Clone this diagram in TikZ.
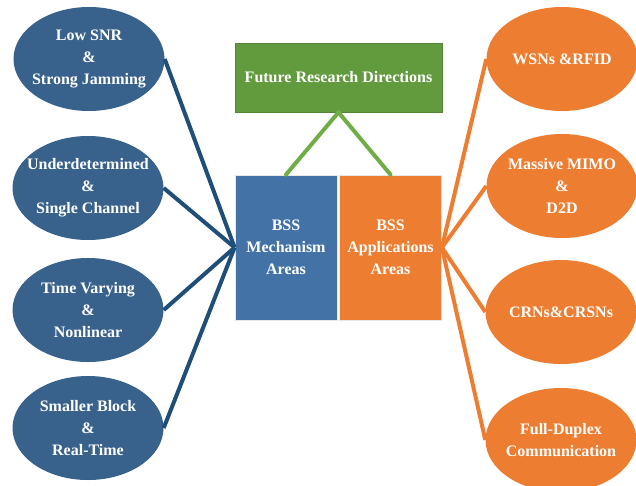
\documentclass[tikz,border=0pt]{standalone}
\usepackage{fontspec}
\setmainfont{Liberation Serif}
\usetikzlibrary{shapes.geometric}
\definecolor{blueEl}{HTML}{38618C}
\definecolor{blueLine}{HTML}{1F4E79}
\definecolor{blueBox}{HTML}{4373A6}
\definecolor{orangeC}{HTML}{ED7D31}
\definecolor{greenBox}{HTML}{629B3E}
\definecolor{greenLine}{HTML}{70AD47}
\tikzset{
  x=1pt, y=-1pt,
  txt/.style={text=white, font=\bfseries\fontsize{16}{22}\selectfont, align=center},
  % fixed-size ellipse; its caption is set as a centred label
  topic/.style={ellipse, minimum width=151pt, minimum height=104pt, inner sep=0pt,
                label={[txt]center:#1}},
  leftel/.style={topic={#1}, fill=blueEl},
  rightel/.style={topic={#1}, fill=orangeC},
  areabox/.style={rectangle, draw=white!82!gray, line width=0.8pt, minimum width=102pt, minimum height=145pt, inner sep=0pt, txt},
  bluelink/.style={draw=blueLine, line width=4pt},
  orangelink/.style={draw=orangeC, line width=4pt},
  greenlink/.style={draw=greenLine, line width=4pt, line cap=round},
}
\begin{document}
\begin{tikzpicture}
\clip (0,0) rectangle (636,485);
\fill[white] (0,0) rectangle (636,485);

% central boxes
\node[rectangle, fill=greenBox, draw=greenBox!85!black, line width=0.6pt, minimum width=207pt, minimum height=69pt, inner sep=0pt, txt] (future) at (338.5,77.5) {Future Research Directions};
\node[areabox, fill=blueBox] (mech) at (286,247.5) {BSS\\Mechanism\\Areas};
\node[areabox, fill=orangeC] (apps) at (390.5,247.5) {BSS\\Applications\\Areas};

% mechanism topics
\node[leftel={Low SNR\\\&\\Strong Jamming}] (l1) at (89,59) {};
\node[leftel={Underdetermined\\\&\\Single Channel}] (l2) at (88,188) {};
\node[leftel={Time Varying\\\&\\Nonlinear}] (l3) at (88,310) {};
\node[leftel={Smaller Block\\\&\\Real-Time}] (l4) at (88,428) {};

% application topics
\node[rightel={WSNs \&RFID}] (r1) at (562,59) {};
\node[rightel={Massive MIMO\\\&\\D2D}] (r2) at (562,186) {};
\node[rightel={CRNs\&CRSNs}] (r3) at (561,312) {};
\node[rightel={Full-Duplex\\Communication}] (r4) at (561,440) {};

% connectors
\foreach \n in {l1,l2,l3,l4} \draw[bluelink] (\n.east) -- (mech.west);
\foreach \n in {r1,r2,r3,r4} \draw[orangelink] (\n.west) -- (apps.east);
\draw[greenlink] (future.south) -- (mech.north);
\draw[greenlink] (future.south) -- (apps.north);
\end{tikzpicture}
\end{document}
